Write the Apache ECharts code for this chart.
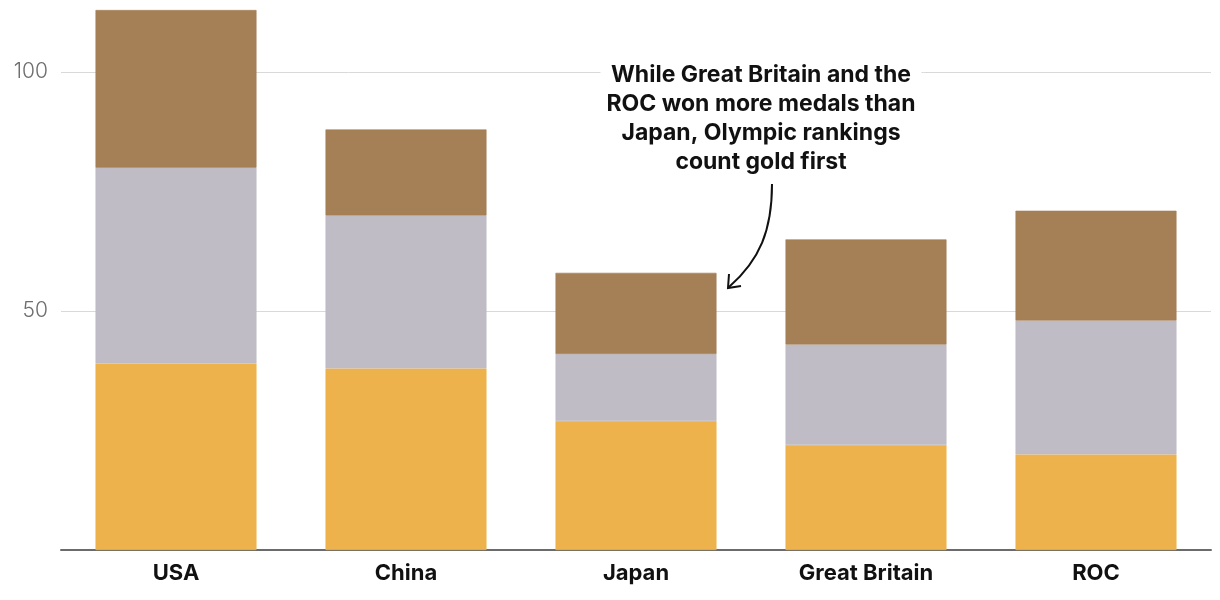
<!DOCTYPE html>
<html><head><meta charset="utf-8">
<script src="https://cdn.jsdelivr.net/npm/echarts@6/dist/echarts.min.js"></script>
<style>html,body{margin:0;padding:0;background:#fff}#c{width:1220px;height:600px}</style>
</head><body><div id="c"></div>
<script>
const countries = ['USA', 'China', 'Japan', 'Great Britain', 'ROC'];
const gold = [39, 38, 27, 22, 20];
const silver = [41, 32, 14, 21, 28];
const bronze = [33, 18, 17, 22, 23];
const yTicks = [0, 50, 100];
const annotation = 'While Great Britain and the\nROC won more medals than\nJapan, Olympic rankings\ncount gold first';

const chart = echarts.init(document.getElementById('c'));
const mk = (name, data, color) => ({
  name, type: 'bar', stack: 'm', data, barWidth: '70%',
  itemStyle: { color, borderColor: color, borderWidth: 0.6 }, emphasis: { disabled: true }, animation: false
});
chart.setOption({
  animation: false,
  grid: { left: 61, right: 9, top: 10, bottom: 50 },
  xAxis: {
    type: 'category', data: countries,
    axisLine: { lineStyle: { color: '#6b6b6b', width: 2 } },
    axisTick: { show: false },
    axisLabel: { color: '#111', fontFamily: 'Inter', fontWeight: 'bold', fontSize: 22, margin: 12 }
  },
  yAxis: {
    type: 'value', min: 0, max: 113, interval: 50,
    axisLine: { show: false }, axisTick: { show: false },
    axisLabel: {
      color: '#6e6e6e', fontFamily: 'Inter', fontWeight: 300, fontSize: 21, margin: 13,
      formatter: v => yTicks.includes(v) && v !== 0 ? String(v) : ''
    },
    splitLine: { showMaxLine: false, lineStyle: { color: '#d9d9d9', width: 1 } }
  },
  series: [
    mk('Gold', gold, '#edb24c'),
    mk('Silver', silver, '#bfbcc6'),
    mk('Bronze', bronze, '#a57f55')
  ],
  graphic: [
    {
      type: 'text', z: 100, x: 761, y: 61,
      style: {
        text: annotation, x: 0, y: 0, align: 'center', verticalAlign: 'top',
        fill: '#111', font: 'bold 23px Inter', lineHeight: 29,
        backgroundColor: '#fff', padding: [0, 6]
      }
    },
    {
      type: 'bezierCurve', z: 100,
      shape: { x1: 772, y1: 184, x2: 729, y2: 287, cpx1: 772, cpy1: 230, cpx2: 760, cpy2: 260 },
      style: { stroke: '#111', lineWidth: 2, fill: null }
    },
    {
      type: 'polyline', z: 100,
      shape: { points: [[729, 274], [728, 288], [741, 286]] },
      style: { stroke: '#111', lineWidth: 2, fill: null }
    }
  ]
});
</script></body></html>
